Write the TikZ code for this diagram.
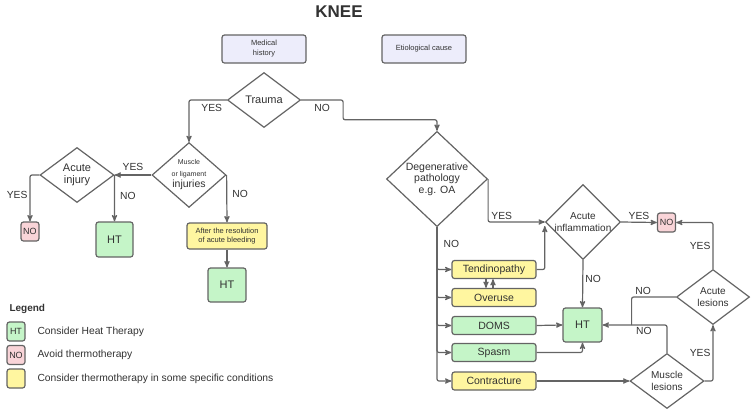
\documentclass[tikz,border=0pt]{standalone}
\usepackage{fontspec}
\setmainfont{Liberation Sans}
\usepackage{xcolor}
\usepackage{tikz}
\usetikzlibrary{arrows,positioning,shapes}

\definecolor{linegray}{RGB}{100,100,100}
\definecolor{txtgray}{RGB}{50,50,50}
\definecolor{histblue}{RGB}{237,237,251}
\definecolor{htgreen}{RGB}{197,245,200}
\definecolor{nopink}{RGB}{249,212,216}
\definecolor{maybeyellow}{RGB}{255,246,160}

\begin{document}
\begin{tikzpicture}[x=1pt,y=-1pt,
  every node/.style={align=center,text=txtgray,font=\fontsize{10}{11.5}\selectfont},
  history/.style={draw=linegray,line width=1.2pt,rounded corners=2.5pt,fill=histblue,minimum width=84pt,minimum height=28pt,font=\fontsize{7.5}{10}\selectfont},
  decision/.style={draw=linegray,line width=1.2pt,shape=diamond,inner sep=0pt,fill=white,minimum width=74pt,minimum height=55pt},
  heat/.style={draw=linegray,line width=1.2pt,rounded corners=2.5pt,fill=htgreen,minimum width=37pt,minimum height=35pt,font=\fontsize{11}{12}\selectfont},
  avoid/.style={draw=linegray,line width=1.2pt,rounded corners=2.5pt,fill=nopink,minimum width=18pt,minimum height=19pt,inner sep=0pt,font=\fontsize{9}{10}\selectfont},
  maybe/.style={draw=linegray,line width=1.2pt,rounded corners=2.5pt,fill=maybeyellow},
  cond/.style={draw=linegray,line width=1.2pt,rounded corners=2.5pt,minimum width=84pt,minimum height=18pt,inner sep=0pt,font=\fontsize{10.5}{12}\selectfont},
  flow/.style={->,>=stealth',line width=1.2pt,draw=linegray,rounded corners=2pt},
  line/.style={line width=1.2pt,draw=linegray,rounded corners=2pt},
  answer/.style={font=\fontsize{10.3}{12}\selectfont,inner sep=2pt}]

    \useasboundingbox (0,0) rectangle (753,408);

    \node[font=\bfseries\fontsize{17}{20}\selectfont] (title) at (339,12) {KNEE};

    % history side
    \node[history] (hist) at (264,49) {Medical\\history};
    \node[history] (cause) at (424,49) {Etiological cause};
    \node[decision,minimum width=73pt] (trauma) at (264,100) {\fontsize{11}{12}\selectfont Trauma};
    \node[decision] (muscle) at (189,175) {\fontsize{7}{8}\selectfont Muscle\\\fontsize{7}{9}\selectfont or ligament\\\fontsize{10.5}{11}\selectfont injuries};
    \node[decision] (injury) at (77,175) {\fontsize{11}{13}\selectfont Acute\\\fontsize{11}{13}\selectfont injury};
    \node[avoid] (no1) at (30,231.5) {NO};
    \node[heat] (ht1) at (114.5,239.5) {HT};
    \node[maybe,minimum width=80pt,minimum height=26pt,inner sep=0pt,font=\fontsize{7.5}{9}\selectfont] (bleed) at (227,236) {After the resolution\\of acute bleeding};
    \node[heat,minimum width=38pt,minimum height=34pt] (ht2) at (227,285) {HT};

    % etiological side
    \node[decision,minimum width=101pt,minimum height=80pt] (degen) at (437,179) {\fontsize{10.5}{12.5}\selectfont Degenerative\\\fontsize{10.5}{12.5}\selectfont pathology\\\fontsize{10.5}{12.5}\selectfont e.g. OA};
    \node[decision,minimum width=73pt,minimum height=54pt] (inflam) at (583,222) {Acute\\inflammation};
    \node[avoid] (no2) at (666.5,222.5) {NO};
    \node[heat,minimum width=39pt,minimum height=34pt] (ht3) at (582.5,325) {HT};
    \node[cond,fill=maybeyellow] (tendino) at (494,269.5) {Tendinopathy};
    \node[cond,fill=maybeyellow] (overuse) at (494,297.5) {Overuse};
    \node[cond,fill=htgreen] (doms) at (494,325.5) {DOMS};
    \node[cond,fill=htgreen] (spasm) at (494,352.5) {Spasm};
    \node[cond,fill=maybeyellow] (contract) at (494,381) {Contracture};
    \node[decision] (mlesion) at (667,381) {Muscle\\lesions};
    \node[decision,minimum width=73pt] (alesion) at (713,297) {Acute\\lesions};

    % legend
    \node[anchor=west,font=\bfseries\fontsize{10}{12}\selectfont] (legend) at (6,309) {Legend};
    \node[avoid,fill=htgreen] (keyht) at (16,331.5) {HT};
    \node[anchor=west,font=\fontsize{10.3}{12}\selectfont] (keyhttxt) at (34,332) {Consider Heat Therapy};
    \node[avoid] (keyno) at (16,355) {NO};
    \node[anchor=west,font=\fontsize{10.3}{12}\selectfont] (keynotxt) at (34,355) {Avoid thermotherapy};
    \node[avoid,fill=maybeyellow] (keymaybe) at (16,378.5) {};
    \node[anchor=west,font=\fontsize{10.3}{12}\selectfont] (keymaybetxt) at (34,379) {Consider thermotherapy in some specific conditions};

    % connectors
    \draw[flow] (trauma.west) -| node[answer,pos=0.2,below=2pt]{YES} (muscle.north);
    \draw[flow] (trauma.east) -- node[answer,below=2pt]{NO} ++(42,0) |- ([yshift=11pt]degen.north) -- (degen.north);
    \draw[flow] (muscle.west) -- node[answer,above=2pt]{YES} (injury.east);
    \draw[flow] (injury.west) -| node[answer,pos=0.72,left]{YES} (no1.north);
    \draw[flow] (injury.east) -- node[answer,right=3pt,pos=0.45]{NO} (ht1.north);
    \draw[flow] (muscle.east) -- node[answer,right=3pt,pos=0.4]{NO} (bleed.north);
    \draw[flow] (bleed) -- (ht2);

    \draw[flow] (degen.east) |- node[answer,pos=0.62,above]{YES} (inflam.west);
    \draw[flow] (inflam.east) -- node[answer,above]{YES} (no2.west);
    \draw[flow] (degen.south) |- node[answer,pos=0.2,right=4pt]{NO} (tendino.west);
    \foreach \c in {overuse,doms,spasm,contract}
        \draw[flow] (degen.south) |- (\c.west);
    \draw[flow] (tendino.east) -| ([yshift=-4pt]inflam.west);
    \draw[flow] ([xshift=-8pt]tendino.south) -- ([xshift=-8pt]overuse.north);
    \draw[flow] ([xshift=-1pt]overuse.north) -- ([xshift=-1pt]tendino.south);
    \draw[flow] (inflam.south) -- node[answer,right,pos=0.4]{NO} (ht3.north);
    \draw[flow] (doms.east) -- (ht3.west);
    \draw[flow] (spasm.east) -| (ht3.south);
    \draw[flow] (contract.east) -- (mlesion.west);
    \draw[flow] (mlesion.north) |- node[answer,pos=0.68,below]{NO} (ht3.east);
    \draw[line] (alesion.west) -| node[answer,pos=0.37,above]{NO} ([xshift=29pt]ht3.east);
    \draw[flow] (mlesion.east) -| node[answer,pos=0.75,left]{YES} (alesion.south);
    \draw[flow] (alesion.north) |- node[answer,pos=0.25,left]{YES} (no2.east);
\end{tikzpicture}
\end{document}
